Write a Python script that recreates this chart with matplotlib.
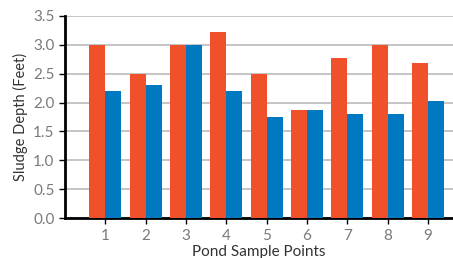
import numpy as np
import matplotlib
matplotlib.use('Agg')
import matplotlib.pyplot as plt

points = [1, 2, 3, 4, 5, 6, 7, 8, 9]
red_vals = [3.0, 2.5, 3.0, 3.22, 2.5, 1.87, 2.77, 3.0, 2.68]
blue_vals = [2.2, 2.3, 3.0, 2.2, 1.75, 1.87, 1.8, 1.8, 2.02]

plt.rcParams['font.family'] = ['Lato', 'DejaVu Sans']

fig = plt.figure(figsize=(4.53, 2.58), dpi=100)
ax = fig.add_axes([0.1435, 0.155, 0.8565, 0.783])

x = np.array(points)
w = 0.4
ax.bar(x - w / 2, red_vals, width=w, color='#F0502A', zorder=3)
ax.bar(x + w / 2, blue_vals, width=w, color='#0079C1', zorder=3)

ax.set_xlim(0, 9.62)
ax.set_ylim(0, 3.5)
ax.set_yticks(np.arange(0, 3.51, 0.5))
ax.set_yticklabels(['%.1f' % v for v in np.arange(0, 3.51, 0.5)])
ax.set_xticks(x)
ax.set_xticklabels([str(p) for p in points])

ax.yaxis.grid(True, color='#BBBBBB', linewidth=1.2, zorder=0)
ax.set_axisbelow(True)

for s in ['top', 'right']:
    ax.spines[s].set_visible(False)
for s in ['left', 'bottom']:
    ax.spines[s].set_linewidth(2)
    ax.spines[s].set_color('black')

ax.tick_params(axis='both', colors='black', labelcolor='#7a7a7a', labelsize=11, length=4, width=1)
ax.tick_params(axis='x', pad=4)
ax.set_ylabel('Sludge Depth (Feet)', fontsize=10.5, color='#333333', labelpad=4)
ax.set_xlabel('Pond Sample Points', fontsize=11, color='#333333', labelpad=1)

fig.savefig('out.png', dpi=100)
